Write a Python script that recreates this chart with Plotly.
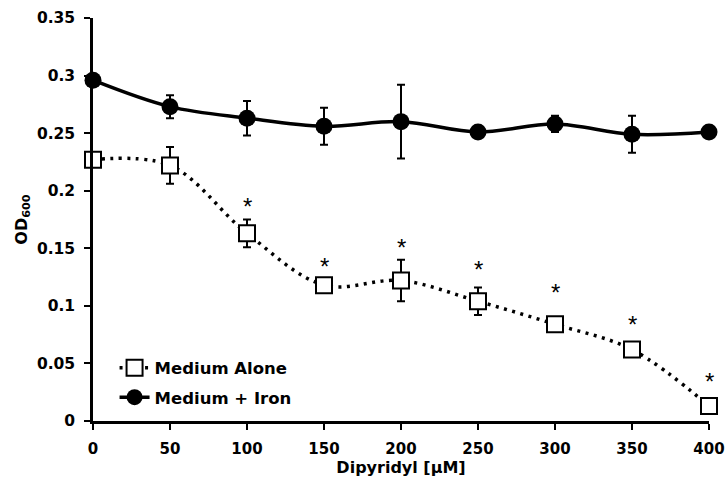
import plotly.graph_objects as go

dose = [0, 50, 100, 150, 200, 250, 300, 350, 400]
alone = [0.227, 0.222, 0.163, 0.118, 0.122, 0.104, 0.084, 0.062, 0.013]
alone_err = [0.002, 0.016, 0.012, 0.004, 0.018, 0.012, 0.002, 0.003, 0.002]
iron = [0.296, 0.273, 0.263, 0.256, 0.260, 0.251, 0.258, 0.249, 0.251]
iron_err = [0.001, 0.010, 0.015, 0.016, 0.032, 0.002, 0.007, 0.016, 0.001]
# height of the significance asterisks, None = no asterisk
star_y = [None, None, 0.189, 0.137, 0.153, 0.134, 0.114, 0.086, 0.037]

font = "DejaVu Sans, Liberation Sans, Arial, sans-serif"

fig = go.Figure()
fig.add_trace(go.Scatter(
    x=dose, y=alone, name="Medium Alone", mode="lines+markers", legendgroup="a",
    line=dict(color="black", width=3.5, dash="3px,5.5px", shape="spline"),
    marker=dict(symbol="square", size=16, color="white", line=dict(color="black", width=2)),
    error_y=dict(type="data", array=alone_err, color="black", thickness=2, width=4),
    cliponaxis=False,
))
fig.add_trace(go.Scatter(
    x=dose, y=iron, name="Medium + Iron", mode="lines+markers", legendgroup="b",
    line=dict(color="black", width=3.5, shape="spline"),
    marker=dict(symbol="circle", size=17, color="black"),
    error_y=dict(type="data", array=iron_err, color="black", thickness=2, width=4),
    cliponaxis=False,
))

for d, sy in zip(dose, star_y):
    if sy is not None:
        fig.add_annotation(x=d, y=sy, text="*", showarrow=False, yanchor="middle",
                           yshift=-3, font=dict(family="Liberation Sans, Arial", size=24, color="black"))

fig.update_layout(
    width=727, height=486,
    margin=dict(l=93, r=18, t=18, b=65),
    plot_bgcolor="white", paper_bgcolor="white",
    font=dict(family=font, size=16, color="black"),
    showlegend=True,
    legend=dict(x=0.035, y=0.175, xanchor="left", yanchor="top",
                bgcolor="rgba(0,0,0,0)", traceorder="grouped", tracegroupgap=5,
                font=dict(family=font, size=16.5, color="black", weight="bold")),
)
fig.update_xaxes(
    range=[0, 400], tickvals=dose, ticktext=[str(d) for d in dose],
    showgrid=False, zeroline=False, showline=True, linecolor="black", linewidth=2.5,
    ticks="outside", ticklen=6, tickwidth=2, tickcolor="black", automargin=False,
    ticklabelstandoff=6,
    tickfont=dict(family=font, size=15, color="black", weight="bold"),
    title=dict(text="<b>Dipyridyl [μM]</b>", font=dict(family=font, size=16, color="black"), standoff=6),
)
fig.update_yaxes(
    range=[0, 0.35], tickvals=[0, 0.05, 0.1, 0.15, 0.2, 0.25, 0.3, 0.35],
    ticktext=["0", "0.05", "0.1", "0.15", "0.2", "0.25", "0.3", "0.35"],
    showgrid=False, zeroline=False, showline=True, linecolor="black", linewidth=2.5,
    ticks="outside", ticklen=6, tickwidth=2, tickcolor="black", automargin=False,
    ticklabelstandoff=6,
    tickfont=dict(family=font, size=15.5, color="black", weight="bold"),
    title=dict(text="<b>OD<sub>600</sub></b>", font=dict(family=font, size=16, color="black"), standoff=6),
)

fig.write_html(
    "out.html",
    config={"displayModeBar": False},
    post_script="document.body.style.margin='0';document.body.style.overflow='hidden';",
)
